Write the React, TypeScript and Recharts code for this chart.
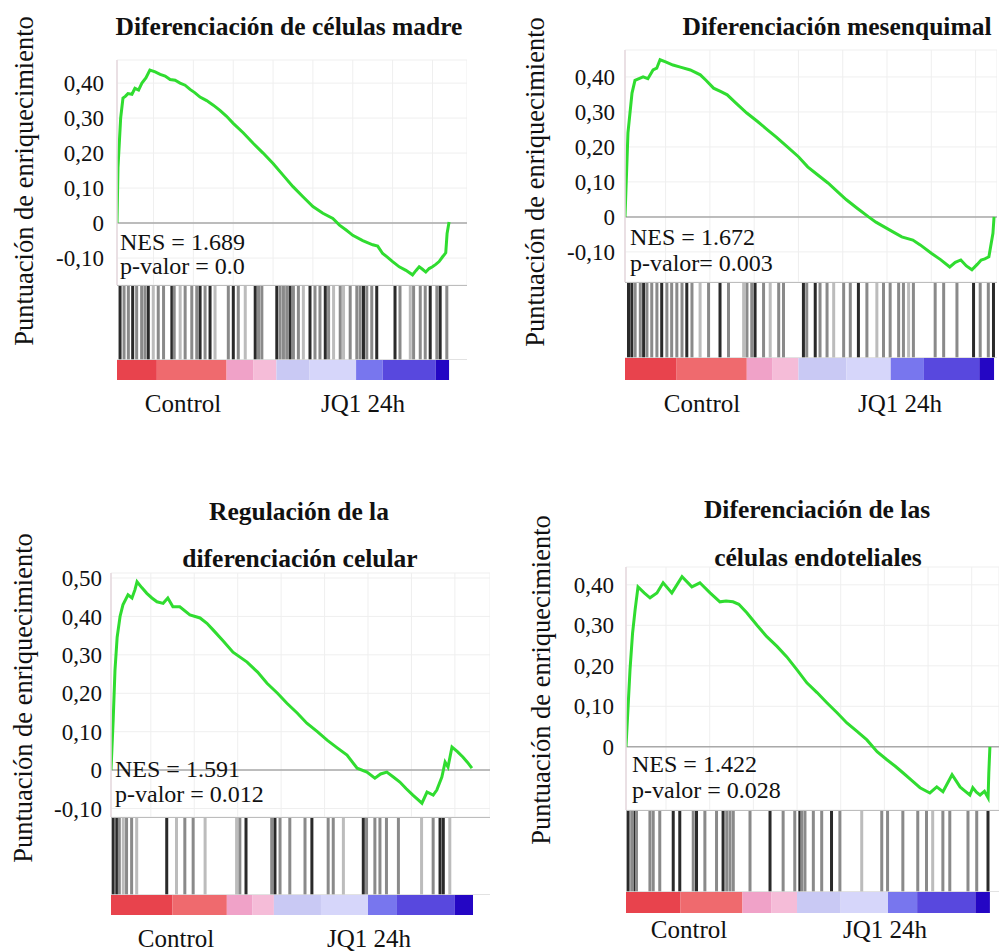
import React from 'react';
import {
  LineChart,
  Line,
  XAxis,
  YAxis,
  CartesianGrid,
  ReferenceLine,
  BarChart,
  Bar,
  Cell,
} from 'recharts';

const FONT = '"Liberation Serif", "DejaVu Serif", "Noto Serif", Tinos, "Times New Roman", Times, serif';

// ---------- Shared ----------
const HEAT_COLORS = ['#e8434d', '#ef6a6e', '#f0a2c8', '#f5bcd8', '#c9c9f4', '#d6d6fa', '#7876ee', '#5848de', '#2406c4'];
const HIT_COLORS = ['#bcbcbc', '#8a8a8a', '#2a2a2a'];
const GRID_X = [11, 23, 35, 47, 59, 71, 83, 95];

// ---------- Panel 1: Diferenciación de células madre ----------
const P1_RANK = [0, 0.3, 1.1, 1.8, 2.5, 3.3, 4.5, 5.4, 6.5, 7.5, 8.7, 9.9, 11.5, 13, 14.5, 16, 17.5, 19, 20.5, 22, 23.5, 25, 27, 29, 31, 33, 35, 38, 41, 44, 47, 50, 53, 56, 59, 62, 65, 67, 69, 71, 74, 77, 78.5, 80, 81.5, 83, 85, 87, 89, 90, 91, 92, 93, 94, 95, 96, 97, 98, 99, 99.4, 100];
const P1_ES = [0, 0.16, 0.3, 0.357, 0.362, 0.37, 0.368, 0.385, 0.38, 0.4, 0.415, 0.437, 0.432, 0.425, 0.42, 0.41, 0.408, 0.4, 0.394, 0.382, 0.372, 0.36, 0.35, 0.337, 0.322, 0.305, 0.285, 0.258, 0.228, 0.2, 0.17, 0.137, 0.104, 0.075, 0.047, 0.028, 0.013, -0.006, -0.02, -0.035, -0.05, -0.062, -0.066, -0.087, -0.098, -0.11, -0.125, -0.135, -0.148, -0.136, -0.125, -0.132, -0.14, -0.13, -0.125, -0.118, -0.11, -0.097, -0.085, -0.03, 0.003];
const P1_HITS = [0.9, 2.1, 3.4, 4.7, 5.9, 7.4, 8.4, 9.4, 10.9, 12.4, 14, 16.5, 17.2, 19, 20.5, 22.5, 24, 25, 26.5, 28, 29.5, 33.5, 35, 36.5, 38.6, 41.6, 42.6, 43.6, 48.1, 49.1, 50.1, 51.1, 52.1, 53.1, 54.6, 56.1, 58.1, 59.6, 61.1, 62.7, 63.7, 65.2, 67.2, 68.2, 70.2, 72.2, 73.2, 74.2, 75.2, 76.7, 78.2, 83.7, 85.2, 88.3, 89.3, 91.3, 92.8, 94.3, 96.3, 97.3, 99.3];
const P1_SHADE = [3, 2, 2, 3, 2, 2, 2, 3, 1, 2, 2, 3, 2, 1, 2, 2, 2, 3, 2, 3, 1, 2, 3, 2, 1, 3, 2, 2, 3, 2, 2, 2, 3, 2, 2, 1, 3, 2, 2, 3, 2, 1, 2, 1, 2, 2, 2, 3, 2, 2, 3, 3, 2, 1, 2, 2, 2, 3, 2, 3, 2];
const P1_HEAT = [12, 21, 8, 7, 10, 14, 8, 16, 4];
const P1_TICKS = [-0.1, 0, 0.1, 0.2, 0.3, 0.4];
const P1_TICK_LABELS = ['-0,10', '0', '0,10', '0,20', '0,30', '0,40'];

// ---------- Panel 2: Diferenciación mesenquimal ----------
const P2_RANK = [0, 0.8, 1.9, 2.7, 3.8, 4.9, 6.2, 7.6, 8.6, 9.5, 11, 13, 15, 17.7, 20.4, 22, 24, 26, 27.7, 30, 33, 36, 38.6, 41, 44, 47, 49.5, 52, 55, 58, 60, 63, 66, 68, 70, 72.5, 75, 78, 80, 83, 85.5, 88, 89.5, 91, 92.5, 94, 95.5, 96.5, 97.5, 98.6, 99.7, 100];
const P2_ES = [0, 0.24, 0.354, 0.39, 0.395, 0.4, 0.395, 0.42, 0.425, 0.449, 0.443, 0.434, 0.428, 0.42, 0.406, 0.39, 0.368, 0.358, 0.349, 0.326, 0.297, 0.272, 0.249, 0.228, 0.2, 0.172, 0.143, 0.122, 0.097, 0.068, 0.049, 0.024, 0, -0.015, -0.027, -0.042, -0.057, -0.066, -0.08, -0.104, -0.122, -0.143, -0.13, -0.123, -0.14, -0.151, -0.135, -0.123, -0.12, -0.114, -0.047, 0];
const P2_HITS = [0.9, 1.8, 2.7, 4.1, 5, 5.9, 7.2, 8.6, 9.9, 11.3, 12.6, 14, 15.4, 16.7, 18.1, 20.3, 22.6, 25.7, 28, 32.1, 33, 34.3, 35.2, 37.5, 39.3, 41.6, 42.9, 48.3, 49.2, 51.5, 52.8, 54.7, 56.5, 59.2, 61, 63.2, 65.5, 68.2, 70, 71.8, 74.1, 75.4, 76.8, 78.1, 84, 86.3, 89.9, 94.4, 96.2, 98.4, 99.8];
const P2_SHADE = [3, 3, 2, 2, 3, 2, 2, 2, 3, 2, 2, 2, 2, 3, 2, 1, 2, 3, 2, 1, 2, 2, 3, 2, 1, 2, 2, 3, 2, 3, 2, 2, 1, 2, 2, 3, 2, 1, 2, 2, 2, 2, 1, 2, 2, 2, 2, 3, 2, 2, 3];
const P2_HEAT = [14, 19, 7, 7, 13, 12, 9, 15, 4];
const P2_TICKS = [-0.1, 0, 0.1, 0.2, 0.3, 0.4];
const P2_TICK_LABELS = ['-0,10', '0', '0,10', '0,20', '0,30', '0,40'];

// ---------- Panel 3: Regulación de la diferenciación celular ----------
const P3_RANK = [0, 0.6, 1.1, 1.7, 2.5, 3.3, 4.7, 5.8, 6.6, 7.2, 8.5, 9.9, 11.3, 12.7, 14.4, 15.7, 17.1, 19, 21.8, 24.6, 26.5, 28.2, 31, 33.7, 37.6, 40.5, 43.1, 46, 48.6, 51.5, 54.1, 57, 59.7, 62.5, 65.2, 68, 70.7, 72.9, 74.5, 76.2, 78, 79.8, 81.5, 83.4, 85.9, 87.3, 89, 90, 91.4, 92.3, 93.1, 94.2, 95.7, 97.2, 98.5, 99.7];
const P3_ES = [0, 0.13, 0.26, 0.346, 0.4, 0.43, 0.456, 0.448, 0.469, 0.49, 0.475, 0.46, 0.448, 0.438, 0.434, 0.448, 0.425, 0.425, 0.404, 0.396, 0.382, 0.365, 0.336, 0.307, 0.281, 0.255, 0.226, 0.2, 0.174, 0.148, 0.122, 0.1, 0.078, 0.058, 0.039, 0.005, -0.005, -0.021, -0.01, -0.005, -0.018, -0.031, -0.048, -0.065, -0.086, -0.057, -0.065, -0.052, -0.018, 0.021, 0.008, 0.06, 0.048, 0.034, 0.02, 0.005];
const P3_HITS = [0.6, 1.6, 2.3, 3.4, 4.3, 5.7, 7.1, 15.4, 18.1, 20.4, 22.7, 26, 34.7, 35.6, 37.3, 44.4, 45.3, 46.7, 49.4, 53.6, 55.5, 60, 61.4, 64.2, 69.7, 70.6, 72.9, 74.3, 76.1, 79.4, 85.8, 89, 90.9, 91.8, 93.6];
const P3_SHADE = [3, 3, 2, 1, 2, 2, 1, 3, 1, 2, 2, 1, 1, 2, 3, 2, 3, 2, 2, 2, 3, 2, 2, 1, 3, 2, 2, 2, 2, 2, 1, 2, 3, 3, 1];
const P3_HEAT = [17, 15, 7, 6, 13, 13, 8, 16, 5];
const P3_TICKS = [-0.1, 0, 0.1, 0.2, 0.3, 0.4, 0.5];
const P3_TICK_LABELS = ['-0,10', '0', '0,10', '0,20', '0,30', '0,40', '0,50'];

// ---------- Panel 4: Diferenciación de las células endoteliales ----------
const P4_RANK = [0, 1.1, 1.8, 2.5, 3.3, 5, 6.6, 8.5, 10.2, 12.6, 15.4, 18.1, 20.3, 23.1, 25.8, 27.5, 29.4, 31, 33.2, 36, 38.7, 41.5, 44.2, 47, 49.7, 52.5, 55.2, 58, 60.7, 63.5, 66.2, 69, 71.7, 74, 76.1, 78.5, 80.8, 83.5, 85.4, 87.1, 89.6, 91.8, 93, 94.5, 95.3, 96.3, 97.3, 98.5, 99.5, 99.7, 100];
const P4_ES = [0, 0.19, 0.28, 0.338, 0.395, 0.38, 0.368, 0.38, 0.405, 0.38, 0.42, 0.395, 0.405, 0.38, 0.358, 0.36, 0.358, 0.352, 0.331, 0.3, 0.272, 0.248, 0.222, 0.19, 0.158, 0.134, 0.109, 0.084, 0.059, 0.038, 0.017, -0.012, -0.032, -0.048, -0.064, -0.083, -0.101, -0.114, -0.099, -0.111, -0.069, -0.099, -0.108, -0.119, -0.101, -0.112, -0.119, -0.11, -0.126, -0.064, 0];
const P4_HITS = [0.6, 1.6, 2.5, 2.9, 6.6, 7.5, 9.3, 13, 14.8, 18.5, 19.4, 21.7, 24.9, 26.7, 27.7, 28.6, 29.5, 34.1, 39.6, 43.2, 46.4, 47.8, 48.3, 49.2, 51.5, 53.8, 56.5, 58.8, 64.8, 70.3, 71.9, 76.1, 80.2, 82.6, 84.3, 87.1, 89, 94, 96.4, 99.5];
const P4_SHADE = [3, 2, 3, 2, 2, 2, 2, 3, 3, 2, 3, 2, 2, 3, 2, 2, 2, 2, 3, 2, 2, 3, 2, 2, 2, 2, 3, 2, 1, 2, 2, 2, 2, 2, 1, 2, 2, 2, 2, 3];
const P4_HEAT = [15, 17, 8, 7, 12, 13, 8, 16, 4];
const P4_TICKS = [0, 0.1, 0.2, 0.3, 0.4];
const P4_TICK_LABELS = ['0', '0,10', '0,20', '0,30', '0,40'];

type Layout = {
  left: number;
  top: number;
  width: number;
  scoreH: number;
  hitH: number;
  heatH: number;
  yMin: number;
  yMax: number;
  xMax: number;
  tickGap: number;
};

const MT = 20;
const YW = 100;
const HIT_W = 3;

function HitShape(props: any) {
  const { x, y, width, height, fill } = props;
  if (x == null || y == null) return null;
  const cx = x + (width || 0) / 2;
  return <rect x={cx - HIT_W / 2} y={y} width={HIT_W} height={height} fill={fill} />;
}

function Panel(props: {
  layout: Layout;
  rank: number[];
  es: number[];
  hits: number[];
  shade: number[];
  heat: number[];
  ticks: number[];
  tickLabels: string[];
}) {
  const { layout: L, rank, es, hits, shade, heat, ticks, tickLabels } = props;
  const curve = rank.map((r, i) => ({ r, es: es[i] }));
  const hitData = hits.map((x, i) => ({ x, v: 1, s: shade[i] }));
  const heatRow: Record<string, number | string> = { row: 'h' };
  heat.forEach((w, i) => {
    heatRow['s' + i] = w;
  });
  const fmt = (v: number) => {
    const idx = ticks.findIndex((t) => Math.abs(t - v) < 1e-9);
    return idx >= 0 ? tickLabels[idx] : '';
  };
  return (
    <>
      <div style={{ position: 'absolute', left: L.left - YW, top: L.top - MT }}>
        <LineChart
          width={YW + L.width}
          height={L.scoreH + 2 * MT}
          data={curve}
          margin={{ top: MT, bottom: MT, left: 0, right: 0 }}
        >
          <CartesianGrid stroke="#efefef" strokeWidth={1} />
          <XAxis type="number" dataKey="r" domain={[0, L.xMax]} ticks={GRID_X} allowDataOverflow hide />
          <YAxis
            type="number"
            domain={[L.yMin, L.yMax]}
            allowDataOverflow
            ticks={ticks}
            interval={0}
            width={YW}
            tickFormatter={fmt}
            tickLine={false}
            tickSize={0}
            tickMargin={L.tickGap}
            axisLine={{ stroke: '#e6d8de', strokeWidth: 1.5 }}
            tick={{ fontFamily: FONT, fontSize: 23, fill: '#111', style: { fontFamily: FONT } }}
          />
          <ReferenceLine y={0} stroke="#a9a9a9" strokeWidth={1.5} />
          <Line
            type="linear"
            dataKey="es"
            stroke="#30dc30"
            strokeWidth={3}
            dot={false}
            isAnimationActive={false}
          />
        </LineChart>
      </div>
      <div style={{ position: 'absolute', left: L.left, top: L.top + L.scoreH }}>
        <BarChart
          width={L.width}
          height={L.hitH}
          data={hitData}
          margin={{ top: 0, bottom: 0, left: 0, right: 0 }}
        >
          <XAxis type="number" dataKey="x" domain={[0, L.xMax]} allowDataOverflow hide />
          <YAxis type="number" domain={[0, 1]} hide />
          <ReferenceLine y={1} stroke="#bdbdbd" strokeWidth={2} />
          <ReferenceLine y={0} stroke="#d8d8d8" strokeWidth={1.5} />
          <Bar dataKey="v" shape={HitShape} isAnimationActive={false}>
            {hitData.map((d, i) => (
              <Cell key={i} fill={HIT_COLORS[d.s - 1]} />
            ))}
          </Bar>
        </BarChart>
      </div>
      <div style={{ position: 'absolute', left: L.left, top: L.top + L.scoreH + L.hitH }}>
        <BarChart
          layout="vertical"
          width={L.width}
          height={L.heatH}
          data={[heatRow]}
          margin={{ top: 0, bottom: 0, left: 0, right: 0 }}
          barCategoryGap={0}
          barGap={0}
        >
          <XAxis type="number" domain={[0, L.xMax]} allowDataOverflow hide />
          <YAxis type="category" dataKey="row" hide />
          {heat.map((_, i) => (
            <Bar key={i} dataKey={'s' + i} stackId="h" fill={HEAT_COLORS[i]} isAnimationActive={false} />
          ))}
        </BarChart>
      </div>
    </>
  );
}

const L1: Layout = { left: 117, top: 60, width: 350, scoreH: 225, hitH: 75, heatH: 20, yMin: -0.177, yMax: 0.466, xMax: 105.4, tickGap: 13 };
const L2: Layout = { left: 625, top: 50, width: 372, scoreH: 232, hitH: 76, heatH: 22, yMin: -0.186, yMax: 0.477, xMax: 100.8, tickGap: 10 };
const L3: Layout = { left: 111, top: 573, width: 379, scoreH: 244, hitH: 78, heatH: 20, yMin: -0.122, yMax: 0.513, xMax: 104.7, tickGap: 9 };
const L4: Layout = { left: 626, top: 567, width: 373, scoreH: 243, hitH: 82, heatH: 21, yMin: -0.156, yMax: 0.444, xMax: 102.5, tickGap: 12 };

const YLABEL = 'Puntuación de enriquecimiento';
const TXT: React.CSSProperties = { fontFamily: FONT };

function YLabel({ x, y }: { x: number; y: number }) {
  return (
    <text
      transform={`translate(${x},${y}) rotate(-90)`}
      textAnchor="middle"
      dominantBaseline="central"
      fontSize={26.5}
      fill="#111"
      style={TXT}
    >
      {YLABEL}
    </text>
  );
}

function T(props: { x: number; y: number; children: string; anchor?: string; bold?: boolean; size: number }) {
  return (
    <text
      x={props.x}
      y={props.y}
      textAnchor={props.anchor || 'start'}
      fontWeight={props.bold ? 'bold' : 'normal'}
      fontSize={props.size}
      fill="#111"
      style={TXT}
    >
      {props.children}
    </text>
  );
}

export default function App() {
  return (
    <div style={{ position: 'absolute', left: 0, top: 0, width: 999, height: 952, background: '#fff', overflow: 'hidden', fontFamily: FONT }}>
      <Panel layout={L1} rank={P1_RANK} es={P1_ES} hits={P1_HITS} shade={P1_SHADE} heat={P1_HEAT} ticks={P1_TICKS} tickLabels={P1_TICK_LABELS} />
      <Panel layout={L2} rank={P2_RANK} es={P2_ES} hits={P2_HITS} shade={P2_SHADE} heat={P2_HEAT} ticks={P2_TICKS} tickLabels={P2_TICK_LABELS} />
      <Panel layout={L3} rank={P3_RANK} es={P3_ES} hits={P3_HITS} shade={P3_SHADE} heat={P3_HEAT} ticks={P3_TICKS} tickLabels={P3_TICK_LABELS} />
      <Panel layout={L4} rank={P4_RANK} es={P4_ES} hits={P4_HITS} shade={P4_SHADE} heat={P4_HEAT} ticks={P4_TICKS} tickLabels={P4_TICK_LABELS} />
      <svg
        width={999}
        height={952}
        style={{ position: 'absolute', left: 0, top: 0, pointerEvents: 'none', fontFamily: FONT }}
      >
        <T x={289} y={35} anchor="middle" bold size={25.5}>Diferenciación de células madre</T>
        <T x={837} y={35} anchor="middle" bold size={25.5}>Diferenciación mesenquimal</T>
        <T x={299} y={520} anchor="middle" bold size={25.5}>Regulación de la</T>
        <T x={300} y={567} anchor="middle" bold size={25.5}>diferenciación celular</T>
        <T x={817} y={518} anchor="middle" bold size={25.5}>Diferenciación de las</T>
        <T x={818} y={566} anchor="middle" bold size={25.5}>células endoteliales</T>

        <YLabel x={24} y={181} />
        <YLabel x={535} y={182} />
        <YLabel x={23} y={698} />
        <YLabel x={541} y={680} />

        <T x={120} y={250} size={24}>NES = 1.689</T>
        <T x={120} y={274} size={24}>p-valor = 0.0</T>
        <T x={630} y={245} size={24}>NES = 1.672</T>
        <T x={630} y={271} size={24}>p-valor= 0.003</T>
        <T x={115} y={777} size={24}>NES = 1.591</T>
        <T x={115} y={802} size={24}>p-valor = 0.012</T>
        <T x={632} y={772} size={24}>NES = 1.422</T>
        <T x={632} y={798} size={24}>p-valor = 0.028</T>

        <T x={183} y={412} anchor="middle" size={25}>Control</T>
        <T x={363} y={412} anchor="middle" size={25}>JQ1 24h</T>
        <T x={702} y={412} anchor="middle" size={25}>Control</T>
        <T x={900} y={412} anchor="middle" size={25}>JQ1 24h</T>
        <T x={176} y={947} anchor="middle" size={25}>Control</T>
        <T x={369} y={947} anchor="middle" size={25}>JQ1 24h</T>
        <T x={689} y={938} anchor="middle" size={25}>Control</T>
        <T x={885} y={938} anchor="middle" size={25}>JQ1 24h</T>
      </svg>
    </div>
  );
}
